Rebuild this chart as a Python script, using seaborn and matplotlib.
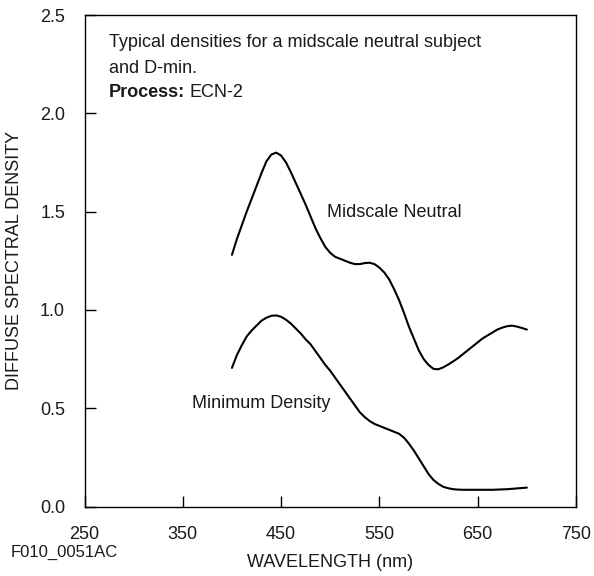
import matplotlib
matplotlib.use("Agg")
import matplotlib.pyplot as plt
import pandas as pd
import seaborn as sns

# wavelengths (nm), read every 5 nm from the reference
wavelength = list(range(400, 705, 5))

midscale_neutral = [1.28, 1.36, 1.43, 1.50, 1.565, 1.63, 1.695, 1.755, 1.79, 1.80,
                    1.785, 1.75, 1.70, 1.645, 1.59, 1.535, 1.475, 1.415, 1.365, 1.32,
                    1.29, 1.27, 1.26, 1.25, 1.24, 1.233, 1.233, 1.238, 1.24, 1.233,
                    1.215, 1.19, 1.155, 1.105, 1.05, 0.985, 0.915, 0.855, 0.795, 0.75,
                    0.72, 0.70, 0.698, 0.708, 0.722, 0.738, 0.755, 0.775, 0.795, 0.815,
                    0.835, 0.855, 0.87, 0.885, 0.90, 0.91, 0.917, 0.92, 0.915, 0.908,
                    0.90]

minimum_density = [0.705, 0.77, 0.82, 0.865, 0.895, 0.92, 0.945, 0.96, 0.97, 0.972,
                   0.965, 0.95, 0.93, 0.905, 0.88, 0.85, 0.825, 0.79, 0.755, 0.72,
                   0.69, 0.655, 0.62, 0.585, 0.55, 0.515, 0.48, 0.455, 0.435, 0.42,
                   0.41, 0.40, 0.39, 0.38, 0.37, 0.35, 0.32, 0.285, 0.245, 0.205,
                   0.165, 0.135, 0.115, 0.10, 0.093, 0.088, 0.086, 0.085, 0.085, 0.085,
                   0.085, 0.085, 0.085, 0.085, 0.086, 0.087, 0.088, 0.09, 0.092, 0.094,
                   0.096]

x_ticks = [250, 350, 450, 550, 650, 750]
y_ticks = [0.0, 0.5, 1.0, 1.5, 2.0, 2.5]

df = pd.concat([
    pd.DataFrame({"wavelength": wavelength, "density": midscale_neutral, "curve": "Midscale Neutral"}),
    pd.DataFrame({"wavelength": wavelength, "density": minimum_density, "curve": "Minimum Density"}),
])

sns.set_theme(style="ticks")
plt.rcParams["font.family"] = ["Liberation Sans", "DejaVu Sans"]

fig = plt.figure(figsize=(5.94, 5.76), dpi=100)
ax = fig.add_axes([84.5 / 594, 1 - 506.5 / 576, 491.5 / 594, 491.5 / 576])

sns.lineplot(data=df, x="wavelength", y="density", units="curve", estimator=None,
             color="black", linewidth=1.5, ax=ax, legend=False)

ax.set_xlim(250, 750)
ax.set_ylim(0, 2.5)
ax.set_xticks(x_ticks)
ax.set_yticks(y_ticks)
ax.set_xticklabels([str(t) for t in x_ticks])
ax.set_yticklabels([f"{t:.1f}" for t in y_ticks])
ax.tick_params(direction="in", length=8, width=1, labelsize=13, colors="black",
               labelcolor="#1a1a1a")
ax.tick_params(axis="x", pad=14)
ax.tick_params(axis="y", pad=14)
for s in ax.spines.values():
    s.set_visible(True)
    s.set_linewidth(1)
    s.set_color("black")

ax.set_xlabel("WAVELENGTH (nm)", fontsize=13, labelpad=8, color="#1a1a1a")
ax.set_ylabel("DIFFUSE SPECTRAL DENSITY", fontsize=13, labelpad=12, color="#1a1a1a")

ax.text(275, 2.36, "Typical densities for a midscale neutral subject", fontsize=13,
        va="center", color="#1a1a1a")
ax.text(275, 2.23, "and D-min.", fontsize=13, va="center", color="#1a1a1a")
bold = ax.text(275, 2.105, "Process:", fontsize=13, fontweight="bold", va="center",
               color="#1a1a1a")
ax.annotate("ECN-2", xy=(1, 0.5), xycoords=bold, xytext=(3, 0),
            textcoords="offset points", fontsize=13, va="center", color="#1a1a1a")
ax.text(497, 1.495, "Midscale Neutral", fontsize=13, va="center", color="#1a1a1a")
ax.text(359, 0.523, "Minimum Density", fontsize=13, va="center", color="#1a1a1a")

fig.text(11 / 594, 1 - 552 / 576, "F010_0051AC", fontsize=12, va="center",
         color="#1a1a1a")

fig.savefig("out.png", dpi=100)
